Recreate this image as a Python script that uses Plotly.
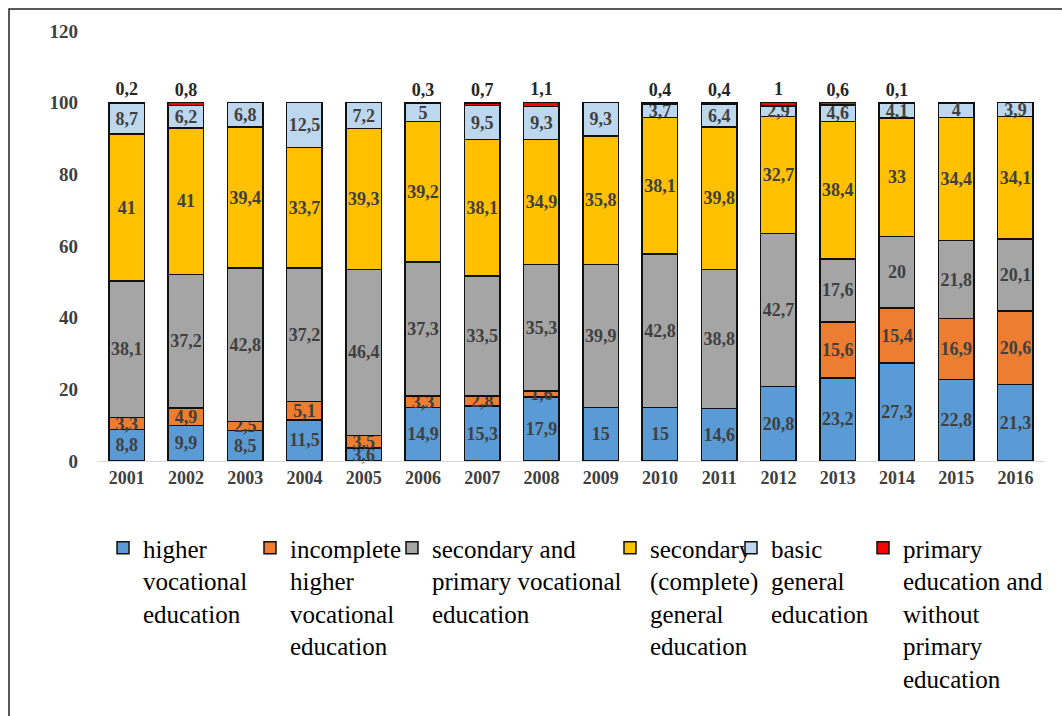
import plotly.graph_objects as go

years = [str(y) for y in range(2001, 2017)]
higher = [8.8, 9.9, 8.5, 11.5, 3.6, 14.9, 15.3, 17.9, 15, 15, 14.6, 20.8, 23.2, 27.3, 22.8, 21.3]
incomplete = [3.3, 4.9, 2.5, 5.1, 3.5, 3.3, 2.8, 1.6, None, None, None, None, 15.6, 15.4, 16.9, 20.6]
secondary_prim_voc = [38.1, 37.2, 42.8, 37.2, 46.4, 37.3, 33.5, 35.3, 39.9, 42.8, 38.8, 42.7, 17.6, 20, 21.8, 20.1]
secondary_general = [41, 41, 39.4, 33.7, 39.3, 39.2, 38.1, 34.9, 35.8, 38.1, 39.8, 32.7, 38.4, 33, 34.4, 34.1]
basic_general = [8.7, 6.2, 6.8, 12.5, 7.2, 5, 9.5, 9.3, 9.3, 3.7, 6.4, 2.9, 4.6, 4.1, 4, 3.9]
primary = [0.2, 0.8, None, None, None, 0.3, 0.7, 1.1, None, 0.4, 0.4, 1, 0.6, 0.1, None, None]

series = [
    ("higher<br>vocational<br>education", higher, "#5B9BD5"),
    ("incomplete<br>higher<br>vocational<br>education", incomplete, "#ED7D31"),
    ("secondary and<br>primary vocational<br>education", secondary_prim_voc, "#A5A5A5"),
    ("secondary<br>(complete)<br>general<br>education", secondary_general, "#FFC000"),
    ("basic<br>general<br>education", basic_general, "#BDD7EE"),
    ("primary<br>education and<br>without<br>primary<br>education", primary, "#FF0000"),
]

# legend text-left positions in pixels (reference)
legend_px = [143, 290, 432, 650, 771, 903]

SERIF = "Liberation Serif, Times New Roman, Tinos, DejaVu Serif, serif"

L, R, T, B = 97, 17, 31, 255
W, H = 1062, 716
pw = W - L - R
ph = H - T - B

def fmt(v):
    if v is None:
        return ""
    return f"{v:g}".replace(".", ",")

fig = go.Figure()
for i, (name, vals, color) in enumerate(series):
    last = i == len(series) - 1
    fig.add_trace(go.Bar(
        x=years, y=vals, name=name,
        marker=dict(color=color, line=dict(color="#111111", width=1.5)),
        text=[fmt(v) for v in vals],
        textposition="outside" if last else "inside",
        insidetextanchor="middle",
        textangle=0,
        constraintext="none",
        cliponaxis=False,
        textfont=dict(family=SERIF, size=18, color="#404040" if not last else "#262626", weight="bold"),
        legend="legend" if i == 0 else f"legend{i+1}",
    ))

legend_kw = {}
for i, px in enumerate(legend_px):
    key = "legend" if i == 0 else f"legend{i+1}"
    legend_kw[key] = dict(
        x=(px - 40 - L) / pw, xanchor="left",
        y=(H - B - 525) / ph, yanchor="top",
        orientation="v", valign="top",
        font=dict(family=SERIF, size=25, color="#000000"),
        bgcolor="rgba(0,0,0,0)", borderwidth=0,
        itemclick=False,
    )

fig.update_layout(
    barmode="stack",
    bargap=0.4,
    width=W, height=H,
    margin=dict(l=L, r=R, t=T, b=B),
    paper_bgcolor="white", plot_bgcolor="white",
    showlegend=True,
    xaxis=dict(
        type="category", showline=True, linecolor="#D9D9D9", linewidth=1,
        ticks="", tickfont=dict(family=SERIF, size=18, color="#404040", weight="bold"),
        showgrid=False,
    ),
    yaxis=dict(
        range=[0, 120], tickvals=[0, 20, 40, 60, 80, 100, 120],
        showgrid=False, showline=False, zeroline=False, ticks="",
        tickfont=dict(family=SERIF, size=19, color="#404040", weight="bold"),
        ticklabelstandoff=18,
    ),
    shapes=[dict(
        type="rect", xref="paper", yref="paper",
        x0=(9 - L) / pw, x1=(1200 - L) / pw,
        y0=(H - B - 9) / ph, y1=(H - B - 900) / ph,
        line=dict(color="#222222", width=1.5), fillcolor="rgba(0,0,0,0)", layer="below",
    )],
    **legend_kw,
)

fig.write_html("out.html")
